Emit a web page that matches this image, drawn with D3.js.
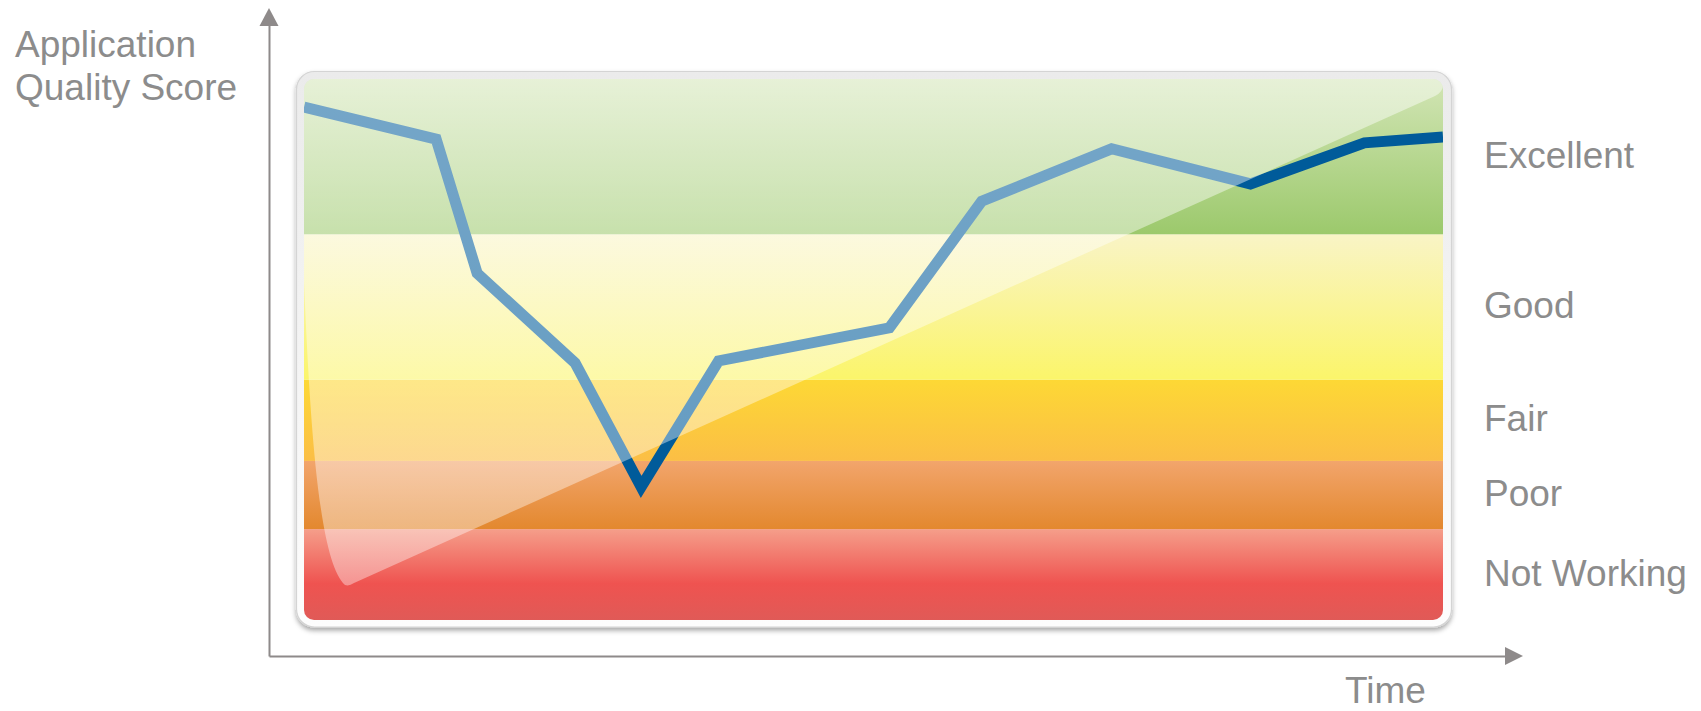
<!DOCTYPE html>
<html>
<head>
<meta charset="utf-8">
<script src="https://cdn.jsdelivr.net/npm/d3@7"></script>
<style>
  html, body { margin: 0; padding: 0; background: #fff; }
  svg { display: block; font-family: "Liberation Sans", Arial, sans-serif; }
</style>
</head>
<body>
<svg id="target"></svg>
<script>
// quality bands, bottom to top, with their score limits
const bandNames = ["Not Working", "Poor", "Fair", "Good", "Excellent"];
const bandLimits = [0, 16.8, 29.4, 44.4, 71.3, 100];

// quality score over time (time in % of the observed period)
const times = [0, 11.6, 15.2, 23.8, 29.6, 36.4, 51.4, 59.5, 70.9, 83.1, 93.1, 100];
const scores = [94.8, 88.9, 64.1, 47.5, 24.6, 47.9, 54.0, 77.4, 87.1, 80.6, 88.2, 89.3];

const width = 1701;
const height = 711;
const textColor = '#8c8c8c';
const axisColor = '#8e8a8a';
const fontSize = 37;

const bandColors = {
  "Excellent": ['#d2e5b5', '#9cc96c'],
  "Good": ['#f9f4c6', '#fbf56a'],
  "Fair": ['#fdd835', '#fbbe45'],
  "Poor": ['#f2a56c', '#e3882e'],
  "Not Working": ['#f59e8a', '#ef5350', '#e05a57']
};

const plot = {left: 304, right: 1443, top: 79, bottom: 620};

const svg = d3.select('#target')
  .attr('width', width)
  .attr('height', height);

const x = d3.scaleLinear().domain([0, 100]).range([plot.left, plot.right]);
const y = d3.scaleLinear().domain([0, 100]).range([plot.bottom, plot.top]);

const defs = svg.append('defs');

// gradients for each band
bandNames.forEach((name, i) => {
  const g = defs.append('linearGradient')
      .attr('id', 'band-' + i)
      .attr('x1', 0).attr('x2', 0).attr('y1', 0).attr('y2', 1);
  const cols = bandColors[name];
  cols.forEach((c, j) => {
    g.append('stop')
      .attr('offset', cols.length === 3 ? [0, 0.6, 1][j] : j)
      .attr('stop-color', c);
  });
});

const frameGrad = defs.append('linearGradient')
    .attr('id', 'frame').attr('x1', 0).attr('x2', 0).attr('y1', 0).attr('y2', 1);
frameGrad.append('stop').attr('offset', 0).attr('stop-color', '#ebebeb');
frameGrad.append('stop').attr('offset', 1).attr('stop-color', '#fdfdfd');

const glossGrad = defs.append('linearGradient')
    .attr('id', 'gloss').attr('x1', 0).attr('x2', 0).attr('y1', 0).attr('y2', 1);
glossGrad.append('stop').attr('offset', 0).attr('stop-color', '#fff').attr('stop-opacity', 0.46);
glossGrad.append('stop').attr('offset', 1).attr('stop-color', '#fff').attr('stop-opacity', 0.38);

const shadow = defs.append('filter').attr('id', 'shadow')
    .attr('x', -0.05).attr('y', -0.05).attr('width', 1.1).attr('height', 1.1);
shadow.append('feDropShadow')
    .attr('dx', 0).attr('dy', 3).attr('stdDeviation', 2.5)
    .attr('flood-color', '#000').attr('flood-opacity', 0.35);

defs.append('clipPath').attr('id', 'inner')
  .append('rect')
    .attr('x', plot.left).attr('y', plot.top)
    .attr('width', plot.right - plot.left).attr('height', plot.bottom - plot.top)
    .attr('rx', 10);

// frame around the bands
svg.append('rect')
    .attr('x', plot.left - 7.5).attr('y', plot.top - 7.5)
    .attr('width', plot.right - plot.left + 16).attr('height', plot.bottom - plot.top + 14.5)
    .attr('rx', 18)
    .attr('fill', 'url(#frame)')
    .attr('stroke', '#d4d4d4')
    .attr('stroke-width', 1.2)
    .attr('filter', 'url(#shadow)');

const inner = svg.append('g').attr('clip-path', 'url(#inner)');

inner.selectAll('.band')
  .data(bandNames)
  .enter().append('rect')
    .attr('class', 'band')
    .attr('x', plot.left)
    .attr('width', plot.right - plot.left)
    .attr('y', (d, i) => y(bandLimits[i + 1]))
    .attr('height', (d, i) => y(bandLimits[i]) - y(bandLimits[i + 1]))
    .attr('fill', (d, i) => 'url(#band-' + i + ')');

const line = d3.line()
    .x(d => x(d[0]))
    .y(d => y(d[1]));

inner.append('path')
    .datum(d3.zip(times, scores))
    .attr('d', line)
    .attr('fill', 'none')
    .attr('stroke', '#005b9a')
    .attr('stroke-width', 11)
    .attr('stroke-linejoin', 'miter');

// glossy highlight over the upper left half
const tipX = 347, tipY = 585;
const gloss = d3.path();
gloss.moveTo(plot.left - 2, plot.top);
gloss.lineTo(plot.left - 2, 230);
gloss.bezierCurveTo(plot.left + 5, 420, plot.left + 14, 560, tipX - 2, tipY);
gloss.quadraticCurveTo(tipX + 2, tipY + 1.5, tipX + 7, tipY - 2);
gloss.lineTo(plot.right - 8, 96);
gloss.quadraticCurveTo(plot.right, 92, plot.right, 85);
gloss.lineTo(plot.right, plot.top);
gloss.closePath();

inner.append('path')
    .attr('d', gloss.toString())
    .attr('fill', 'url(#gloss)');

// quality labels
svg.selectAll('.label')
  .data(bandNames)
  .enter().append('text')
    .attr('class', 'label')
    .attr('x', 1484)
    .attr('y', (d, i) => (y(bandLimits[i]) + y(bandLimits[i + 1])) / 2 + 11)
    .attr('fill', textColor)
    .attr('font-size', fontSize)
    .text(d => d);

// axes: plain arrows, no ticks
const xAxisScale = d3.scaleLinear().range([269, 1508]);
const yAxisScale = d3.scaleLinear().range([656, 24]);

svg.append('g')
    .attr('transform', 'translate(0,656)')
    .call(d3.axisBottom(xAxisScale).tickValues([]).tickSizeOuter(0))
    .call(g => g.select('.domain').attr('stroke', axisColor).attr('stroke-width', 2));

svg.append('g')
    .attr('transform', 'translate(269,0)')
    .call(d3.axisLeft(yAxisScale).tickValues([]).tickSizeOuter(0))
    .call(g => g.select('.domain').attr('stroke', axisColor).attr('stroke-width', 2));

svg.append('path')
    .attr('d', 'M1523,656 L1505,647 L1505,665 Z')
    .attr('fill', axisColor);
svg.append('path')
    .attr('d', 'M269,8 L259.5,26 L278.5,26 Z')
    .attr('fill', axisColor);

// axis titles
const yTitle = svg.append('text')
    .attr('fill', textColor)
    .attr('font-size', fontSize);
yTitle.append('tspan').attr('x', 15).attr('y', 57).text('Application');
yTitle.append('tspan').attr('x', 15).attr('y', 100).text('Quality Score');

svg.append('text')
    .attr('x', 1345)
    .attr('y', 703)
    .attr('fill', textColor)
    .attr('font-size', fontSize)
    .text('Time');
</script>
</body>
</html>
